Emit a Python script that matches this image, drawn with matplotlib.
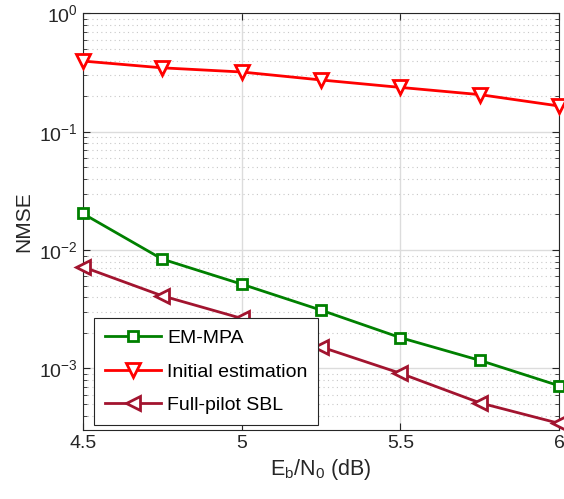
import matplotlib
matplotlib.use("Agg")
import matplotlib.pyplot as plt
import numpy as np
from matplotlib.ticker import LogLocator, NullFormatter

plt.rcParams['font.family'] = ['Liberation Sans', 'DejaVu Sans']
plt.rcParams['mathtext.fontset'] = 'custom'
plt.rcParams['mathtext.rm'] = 'Liberation Sans'
plt.rcParams['mathtext.it'] = 'Liberation Sans:italic'
plt.rcParams['mathtext.bf'] = 'Liberation Sans:bold'

ebn0 = [4.5, 4.75, 5.0, 5.25, 5.5, 5.75, 6.0]
em_mpa = [0.0204, 0.0084, 0.00516, 0.00311, 0.00182, 0.00117, 0.000713]
initial = [0.396, 0.347, 0.320, 0.274, 0.237, 0.206, 0.165]
full_pilot = [0.00723, 0.00411, 0.00265, 0.00152, 0.00091, 0.000512, 0.000343]
xticks = [4.5, 5, 5.5, 6]
xticklabels = ['4.5', '5', '5.5', '6']

fig = plt.figure(figsize=(5.64, 4.99), dpi=100)
ax = fig.add_axes([0.1466, 0.1383, 0.9917 - 0.1466, 0.9731 - 0.1383])

ax.semilogy(ebn0, em_mpa, '-s', color='#008000', lw=2, ms=7, mfc='white', mew=2, label='EM-MPA', clip_on=False, zorder=3)
ax.semilogy(ebn0, initial, '-v', color='#ff0000', lw=2, ms=9.5, mfc='white', mew=2, label='Initial estimation', clip_on=False, zorder=3)
ax.semilogy(ebn0, full_pilot, '-<', color='#a2142f', lw=2, ms=9.5, mfc='white', mew=2, label='Full-pilot SBL', clip_on=False, zorder=3)

ax.set_xlim(4.5, 6)
ax.set_ylim(10**-3.52, 1)
ax.set_xticks(xticks)
ax.set_xticklabels(xticklabels)
ax.yaxis.set_major_locator(LogLocator(base=10, numticks=10))
ax.yaxis.set_minor_locator(LogLocator(base=10, subs=np.arange(2, 10), numticks=20))
ax.yaxis.set_minor_formatter(NullFormatter())

ax.grid(True, which='major', color='#dcdcdc', lw=1, ls='-')
ax.grid(True, which='minor', axis='y', color='#c8c8c8', lw=0.8, ls=(0, (1, 3)))
ax.set_axisbelow(True)

ax.tick_params(which='both', direction='in', top=True, right=True, labelsize=14, colors='#262626')
ax.tick_params(which='major', length=5)
ax.tick_params(which='minor', length=3)
for s in ax.spines.values():
    s.set_color('#262626')
    s.set_linewidth(0.8)

ax.set_xlabel(r'E$_\mathrm{b}$/N$_0$ (dB)', fontsize=15.5, color='#262626')
ax.set_ylabel('NMSE', fontsize=15, color='#262626')

leg = ax.legend(loc='lower left', fontsize=14, fancybox=False, edgecolor='#262626',
                framealpha=1, borderpad=0.55, handlelength=2.9, handletextpad=0.3,
                labelspacing=0.83, borderaxespad=0,
                bbox_to_anchor=(0.024, 0.012))
leg.get_frame().set_linewidth(0.8)

fig.savefig('out.png', dpi=100)
